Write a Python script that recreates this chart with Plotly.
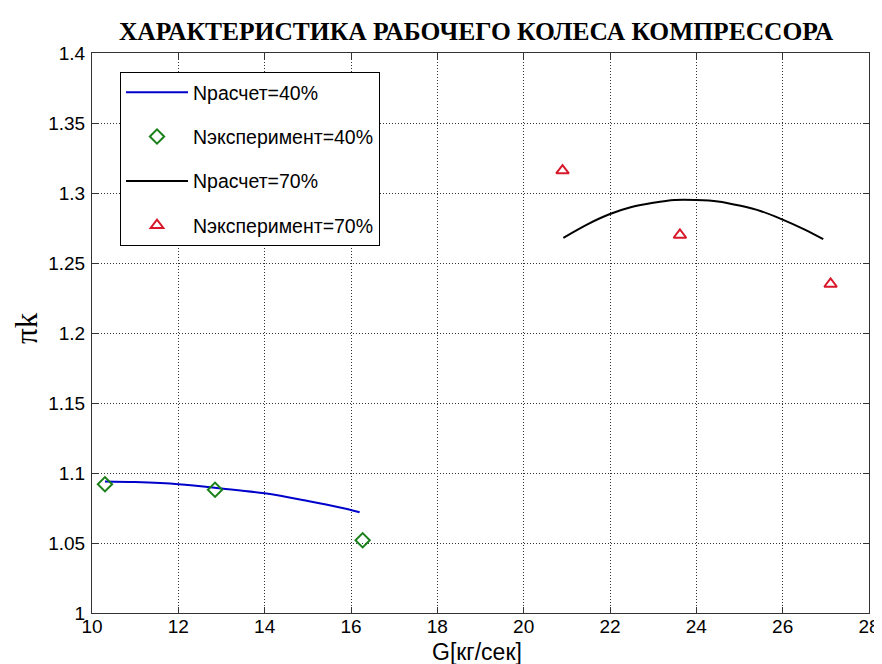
import plotly.graph_objects as go

# Data
calc40_G = [10.3, 11.0, 12.0, 13.0, 14.0, 15.0, 15.8, 16.2]
calc40_pi = [1.094, 1.0935, 1.092, 1.089, 1.0855, 1.080, 1.075, 1.072]

exp40_G = [10.3, 12.85, 16.27]
exp40_pi = [1.092, 1.088, 1.052]

calc70_G = [20.92, 21.5, 22.0, 22.5, 23.0, 23.5, 24.0, 24.5, 25.0, 25.5, 26.0, 26.5, 26.94]
calc70_pi = [1.268, 1.278, 1.285, 1.290, 1.293, 1.295, 1.295, 1.294, 1.291, 1.287, 1.281, 1.274, 1.267]

exp70_G = [20.9, 23.62, 27.11]
exp70_pi = [1.316, 1.270, 1.235]

x_ticks = [10, 12, 14, 16, 18, 20, 22, 24, 26, 28]
y_ticks = [1.0, 1.05, 1.1, 1.15, 1.2, 1.25, 1.3, 1.35, 1.4]
y_tick_labels = ["1", "1.05", "1.1", "1.15", "1.2", "1.25", "1.3", "1.35", "1.4"]

fig = go.Figure()
fig.add_trace(go.Scatter(x=calc40_G, y=calc40_pi, mode="lines", name="Nрасчет=40%",
                         line=dict(color="#0000cc", width=2), legendgroup="a",
                         line_shape="spline"))
fig.add_trace(go.Scatter(x=exp40_G, y=exp40_pi, mode="markers", name="Nэксперимент=40%",
                         marker=dict(symbol="diamond-open", size=11, color="#1a801a",
                                     line=dict(width=2, color="#1a801a")), legendgroup="b"))
fig.add_trace(go.Scatter(x=calc70_G, y=calc70_pi, mode="lines", name="Nрасчет=70%",
                         line=dict(color="black", width=2), legendgroup="c",
                         line_shape="spline"))
fig.add_trace(go.Scatter(x=exp70_G, y=exp70_pi, mode="markers", name="Nэксперимент=70%",
                         marker=dict(symbol="triangle-up-open", size=11, color="#d8182a",
                                     line=dict(width=2, color="#d8182a")), legendgroup="d"))

axis_common = dict(
    showline=True, linecolor="#333", linewidth=1, mirror="ticks",
    ticks="inside", ticklen=6, tickcolor="#333",
    showgrid=True, gridcolor="#333", griddash="1px,2px", gridwidth=1,
    zeroline=False, automargin=False,
    tickfont=dict(family="Liberation Sans, Arial", size=19, color="black"),
)

# The page body has an 8px margin, so the figure is sized to fit the window.
W, H = 874, 656

fig.update_layout(
    width=W, height=H,
    margin=dict(l=84, r=13, t=45, b=51),
    paper_bgcolor="white", plot_bgcolor="white",
    title=dict(text="ХАРАКТЕРИСТИКА РАБОЧЕГО КОЛЕСА КОМПРЕССОРА",
               font=dict(family="Liberation Serif, Times New Roman", size=25.5, color="black",
                         weight="bold"),
               x=468 / W, xanchor="center", xref="container",
               y=1 - 23 / H, yanchor="middle", yref="container"),
    xaxis=dict(range=[10, 28], tickvals=x_ticks, ticktext=[str(v) for v in x_ticks],
               ticklabelstandoff=-4, **axis_common),
    yaxis=dict(range=[1.0, 1.4], tickvals=y_ticks, ticktext=y_tick_labels,
               ticklabelstandoff=2, **axis_common),
    annotations=[
        dict(text="G[кг/сек]", xref="paper", yref="paper", x=(477 - 92) / 777, y=0,
             yshift=-39, xanchor="center", yanchor="middle", showarrow=False,
             font=dict(family="Liberation Sans, Arial", size=23, color="black")),
        dict(text="πk", xref="paper", yref="paper", x=0, y=0.5, xshift=-66, yshift=5,
             xanchor="center", yanchor="middle", textangle=-90, showarrow=False,
             font=dict(family="Liberation Serif, Times New Roman", size=31, color="black")),
    ],
    showlegend=True,
    legend=dict(x=(120 - 92) / 777, y=(613 - 72) / 560, xanchor="left", yanchor="top",
                bgcolor="white", bordercolor="black", borderwidth=1,
                font=dict(family="Liberation Sans, Arial", size=19.5, color="black"),
                tracegroupgap=16, itemwidth=62),
)

fig.write_html("out.html")
